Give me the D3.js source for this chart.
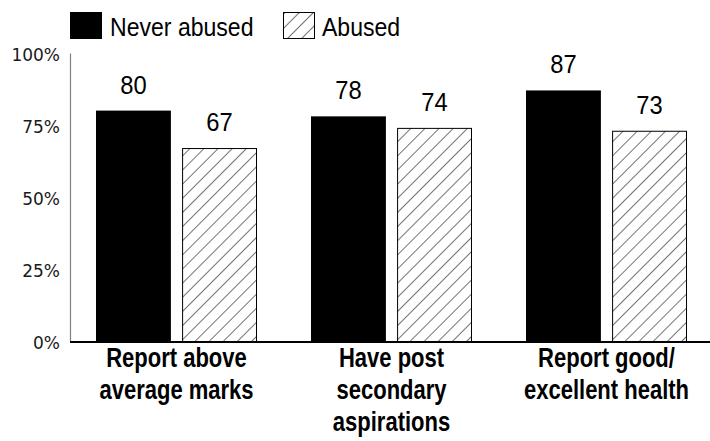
<!DOCTYPE html>
<html>
<head>
<meta charset="utf-8">
<script src="https://cdn.jsdelivr.net/npm/d3@7/dist/d3.min.js"></script>
<style>
  html, body { margin: 0; padding: 0; background: #fff; }
  svg { display: block; }
</style>
</head>
<body>
<svg id="chart" width="710" height="441"></svg>
<script>
const categories = [
  ["Report above", "average marks"],
  ["Have post", "secondary", "aspirations"],
  ["Report good/", "excellent health"]
];
const seriesNames = ["Never abused", "Abused"];
const neverAbused = [80, 78, 87];
const abused = [67, 74, 73];
const yTicks = [0, 25, 50, 75, 100];

const svg = d3.select("#chart");
const sans = "'Liberation Sans', Arial, sans-serif";

const margin = { left: 70, right: -4, top: 53 };
const W = 710;

// diagonal hatch for the "Abused" series
const defs = svg.append("defs");
const pat = defs.append("pattern")
  .attr("id", "hatch")
  .attr("patternUnits", "userSpaceOnUse")
  .attr("width", 10).attr("height", 10)
  .attr("patternTransform", "rotate(45)");
pat.append("rect").attr("width", 10).attr("height", 10).attr("fill", "#fff");
pat.append("line").attr("x1", 0).attr("y1", 0).attr("x2", 0).attr("y2", 10)
  .attr("stroke", "#000").attr("stroke-width", 1.1);

const x0 = d3.scaleBand()
  .domain(d3.range(categories.length))
  .range([margin.left - 1, W - margin.right])
  .paddingInner(0).paddingOuter(0);

const x1 = d3.scaleBand()
  .domain([0, 1])
  .range([27, x0.bandwidth() - 27])
  .paddingInner(0.13);

const y = d3.scaleLinear().domain([0, 100]).range([341, margin.top]);

// y axis
const yAxis = d3.axisLeft(y).tickValues(yTicks).tickSize(0).tickPadding(10)
  .tickFormat(d => d + "%");
const ga = svg.append("g").attr("transform", `translate(${margin.left},0)`).call(yAxis);
ga.select(".domain").attr("stroke", "#808080").attr("stroke-width", 1.2);
ga.selectAll("text")
  .attr("font-family", "'DejaVu Sans', sans-serif")
  .attr("font-size", 17).attr("fill", "#1a1a1a")
  .attr("dy", "0.45em");

const data = categories.map((c, i) => ({ i, values: [neverAbused[i], abused[i]] }));

const groups = svg.selectAll("g.grp").data(data).join("g")
  .attr("class", "grp")
  .attr("transform", d => `translate(${x0(d.i)},0)`);

groups.selectAll("rect").data(d => d.values.map((v, k) => ({ v, k }))).join("rect")
  .attr("x", d => x1(d.k) + (d.k === 1 ? 0.5 : 0))
  .attr("width", d => x1.bandwidth() - (d.k === 1 ? 1 : 0))
  .attr("y", d => y(d.v) + (d.k === 1 ? 0.5 : 0))
  .attr("height", d => y(0) - y(d.v))
  .attr("fill", d => d.k === 0 ? "#000" : "url(#hatch)")
  .attr("stroke", d => d.k === 1 ? "#000" : "none")
  .attr("stroke-width", 1);

// value labels
groups.selectAll("text.val").data(d => d.values.map((v, k) => ({ v, k }))).join("text")
  .attr("class", "val")
  .attr("transform", d => `translate(${x1(d.k) + x1.bandwidth() / 2},${y(d.v) - 17}) scale(0.95,1)`)
  .attr("text-anchor", "middle")
  .attr("font-family", sans)
  .attr("font-size", 25)
  .attr("fill", "#000")
  .text(d => d.v);

// baseline
svg.append("line")
  .attr("x1", margin.left).attr("x2", W)
  .attr("y1", y(0) + 1).attr("y2", y(0) + 1)
  .attr("stroke", "#000").attr("stroke-width", 2);

// category labels, condensed bold
groups.each(function (d) {
  categories[d.i].forEach((line, j) => {
    d3.select(this).append("text")
      .attr("transform", `translate(${x0.bandwidth() / 2},${367 + j * 32}) scale(0.8,1)`)
      .attr("text-anchor", "middle")
      .attr("font-family", sans)
      .attr("font-weight", "bold")
      .attr("font-size", 27.5)
      .attr("fill", "#000")
      .text(line);
  });
});

// legend
const legend = svg.append("g");
const legendItems = [
  { name: seriesNames[0], fill: "#000", x: 70, tx: 110 },
  { name: seriesNames[1], fill: "url(#hatch)", x: 283, tx: 322 }
];
legendItems.forEach(it => {
  legend.append("rect")
    .attr("x", it.x + 0.5).attr("y", 12.5)
    .attr("width", 31).attr("height", 26)
    .attr("fill", it.fill)
    .attr("stroke", "#000").attr("stroke-width", 1);
  legend.append("text")
    .attr("transform", `translate(${it.tx},36) scale(0.87,1)`)
    .attr("font-family", sans)
    .attr("font-size", 26.5)
    .attr("fill", "#000")
    .text(it.name);
});
</script>
</body>
</html>
